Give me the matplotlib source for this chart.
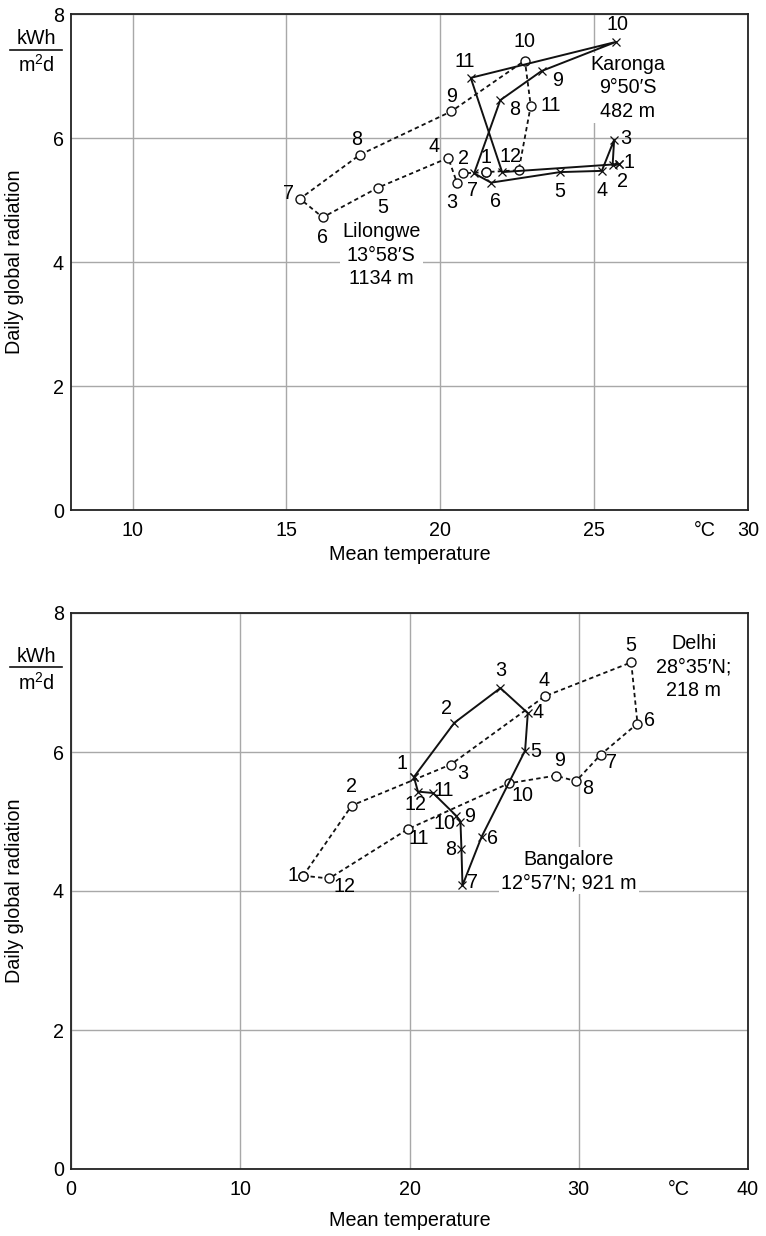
import matplotlib
matplotlib.use("Agg")
import matplotlib.pyplot as plt
from matplotlib.lines import Line2D

plt.rcParams['font.family'] = ['Liberation Sans', 'DejaVu Sans']
FS = 14.2

# ---------------- data ----------------
months = [str(m) for m in range(1, 13)]

# Top chart: Lilongwe (open circles, dashed) and Karonga (x, solid)
lil_temp = [21.49, 20.75, 20.54, 20.26, 17.98, 16.18, 15.44, 17.39, 20.36, 22.75, 22.94, 22.55]
lil_rad = [5.45, 5.43, 5.28, 5.68, 5.20, 4.72, 5.02, 5.73, 6.43, 7.25, 6.52, 5.48]
kar_temp = [25.82, 25.60, 25.65, 25.25, 23.89, 21.65, 21.10, 21.95, 23.29, 25.71, 20.99, 22.01]
kar_rad = [5.58, 5.56, 5.97, 5.47, 5.45, 5.28, 5.43, 6.61, 7.08, 7.55, 6.97, 5.45]

# Bottom chart: Delhi (open circles, dashed) and Bangalore (x, solid)
del_temp = [13.72, 16.59, 22.44, 27.98, 33.10, 33.47, 31.29, 29.84, 28.63, 25.88, 19.90, 15.25]
del_rad = [4.22, 5.23, 5.82, 6.80, 7.29, 6.41, 5.96, 5.58, 5.66, 5.55, 4.89, 4.18]
ban_temp = [20.26, 22.65, 25.37, 26.99, 26.83, 24.26, 23.13, 23.07, 23.01, 22.77, 21.39, 20.50]
ban_rad = [5.64, 6.42, 6.92, 6.56, 6.02, 4.78, 4.08, 4.60, 5.00, 5.08, 5.41, 5.43]

top_xticks = [10, 15, 20, 25, 30]
bot_xticks = [0, 10, 20, 30, 40]
yticks = [0, 2, 4, 6, 8]

# Karonga's December point shares the "12" label with Lilongwe's in the reference
kar_labels = months[:11] + ['']

# label offsets (points) for month numbers
lil_off = [(0, 10.5), (0, 10.5), (-3.6, -14), (-10.5, 8), (3.4, -14.5), (0, -14.5),
           (-8.5, 3.6), (-2.6, 11.2), (0, 10.8), (0, 13.5), (14.5, 0), (-6, 10)]
kar_off = [(7, 1.2), (7, -12), (8.5, 1.2), (0, -14.5), (0, -14.2), (3, -13.5),
           (-1, -12), (10, -7), (11.2, -7), (1.2, 12.2), (-4, 11.8), (0, 0)]
del_off = [(-7.2, 0), (0, 14), (8.4, -6.2), (0, 11.5), (0, 12), (8.8, 2.4),
           (7.6, -5.7), (8.4, -5), (2.6, 10.8), (9.4, -8.8), (7.6, -6.8), (10.8, -5.8)]
ban_off = [(-8.4, 9.4), (-5.5, 10), (0, 12.6), (7.6, 0.5), (7.6, -0.7), (7.6, -1.2),
           (7.4, 2.4), (-7.6, 0), (6.4, 3.8), (-8.8, -5.2), (7.6, 2.1), (-2, -9.4)]

W, H = 766, 1236
fig = plt.figure(figsize=(W / 100, H / 100), dpi=100)


def px_axes(l, r, t, b):
    return [l / W, 1 - b / H, (r - l) / W, (b - t) / H]


ax1 = fig.add_axes(px_axes(71, 748, 14, 510))
ax2 = fig.add_axes(px_axes(71, 748, 613, 1169))

GRID = '#a8a8a8'


def style(ax, xlim, xticks, degc_x):
    ax.set_xlim(*xlim)
    ax.set_ylim(0, 8)
    ax.set_xticks(xticks)
    ax.set_yticks(yticks)
    ax.set_xticks([degc_x], minor=True)
    ax.set_xticklabels(['°C'], minor=True)
    ax.tick_params(which='both', length=0, labelsize=FS)
    ax.tick_params(axis='x', which='both', pad=8)
    ax.tick_params(axis='y', pad=5)
    ax.grid(which='major', color=GRID, lw=1.0)
    ax.set_axisbelow(True)
    for s in ax.spines.values():
        s.set_linewidth(1.3)
        s.set_color('#222222')


style(ax1, (8, 30), top_xticks, 28.6)
style(ax2, (0, 40), bot_xticks, 35.9)

DASH = (0, (2.4, 1.8))


def loop(ax, xs, ys, marker, ls, offs, labels):
    xx = list(xs) + [xs[0]]
    yy = list(ys) + [ys[0]]
    if marker == 'o':
        ax.plot(xx, yy, ls=ls, color='#111111', lw=1.3, marker='o', ms=6.5,
                mfc='white', mec='#111111', mew=1.0, zorder=3)
    else:
        ax.plot(xx, yy, ls=ls, color='#111111', lw=1.4, marker='x', ms=5.5,
                mec='#111111', mew=0.9, zorder=3)
    for m, x, y, (dx, dy) in zip(labels, xs, ys, offs):
        if not m:
            continue
        ax.annotate(m, (x, y), xytext=(dx, dy), textcoords='offset points',
                    ha='center', va='center', fontsize=FS, zorder=4)


loop(ax1, lil_temp, lil_rad, 'o', DASH, lil_off, months)
loop(ax1, kar_temp, kar_rad, 'x', '-', kar_off, kar_labels)
loop(ax2, del_temp, del_rad, 'o', DASH, del_off, months)
loop(ax2, ban_temp, ban_rad, 'x', '-', ban_off, months)

box = dict(facecolor='white', edgecolor='none', pad=1.5)
ax1.text(26.1, 6.81, 'Karonga\n9°50′S\n482 m', ha='center', va='center',
         fontsize=FS, linespacing=1.3, bbox=box, zorder=2)
ax1.text(18.08, 4.11, 'Lilongwe\n13°58′S\n1134 m', ha='center', va='center',
         fontsize=FS, linespacing=1.3, bbox=box, zorder=2)
ax2.text(36.8, 7.22, 'Delhi\n28°35′N;\n218 m', ha='center', va='center',
         fontsize=FS, linespacing=1.3, bbox=box, zorder=2)
ax2.text(29.4, 4.29, 'Bangalore\n12°57′N; 921 m', ha='center', va='center',
         fontsize=FS, linespacing=1.3, bbox=box, zorder=2)

# axis labels
for yc in ((14 + 510) / 2, (613 + 1169) / 2):
    fig.text(15 / W, 1 - yc / H, 'Daily global radiation', rotation=90,
             ha='center', va='center', fontsize=FS)
for yc in (555, 1220):
    fig.text(409.5 / W, 1 - yc / H, 'Mean temperature', ha='center',
             va='center', fontsize=FS)

# unit fraction kWh / m²d
for (yk, yl, ym) in ((39, 50, 65), (657, 667, 683)):
    fig.text(36 / W, 1 - yk / H, 'kWh', ha='center', va='center', fontsize=FS)
    fig.text(36 / W, 1 - ym / H, 'm$^{\\mathregular{2}}$d', ha='center',
             va='center', fontsize=FS)
    fig.add_artist(Line2D([10 / W, 62 / W], [1 - yl / H, 1 - yl / H],
                          transform=fig.transFigure, color='#111111', lw=1.2))

fig.savefig('out.png', dpi=100)
